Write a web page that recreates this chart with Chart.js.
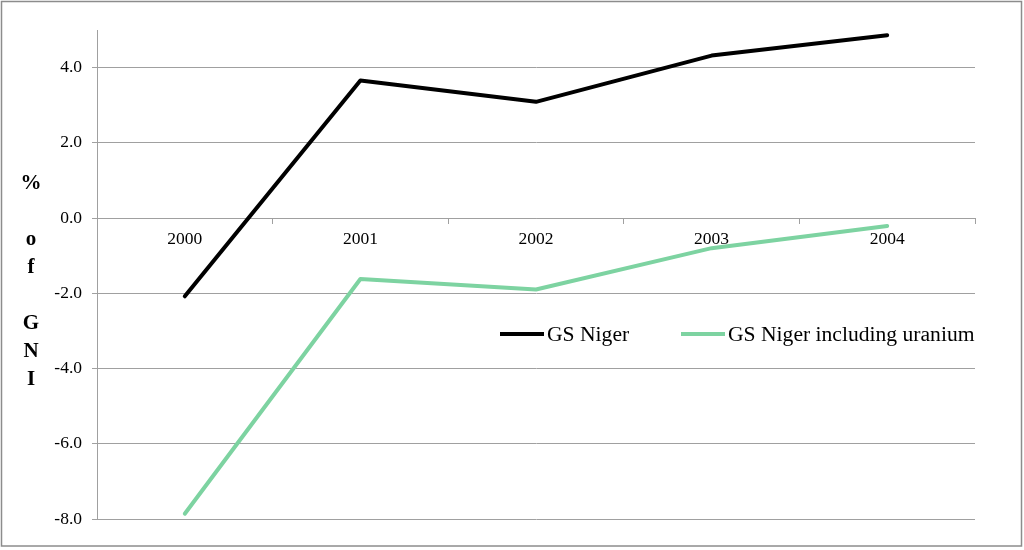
<!DOCTYPE html>
<html>
<head>
<meta charset="utf-8">
<script src="https://cdn.jsdelivr.net/npm/chart.js@4/dist/chart.umd.min.js"></script>
<style>
  html, body { margin: 0; padding: 0; background: #fff; }
  #wrap { width: 1024px; height: 550px; position: relative; }
</style>
</head>
<body>
<div id="wrap"><canvas id="chart"></canvas></div>
<script>
const YEARS = ["2000", "2001", "2002", "2003", "2004"]
const GS_NIGER = [-2.08, 3.66, 3.09, 4.32, 4.86]
const GS_NIGER_URANIUM = [-7.86, -1.62, -1.9, -0.8, -0.21]
const Y_TICKS = [-8, -6, -4, -2, 0, 2, 4]
const Y_TITLE = "% of GNI"

const BLACK = "#000000"
const GREEN = "#7dd3a1"
const GRID = "#a0a0a0"
const SERIF = "'Liberation Serif', 'Times New Roman', serif"

Chart.defaults.font.family = SERIF
Chart.defaults.color = "#000"

// frame, stacked y title and the legend in the middle of the plot
const decor = {
  id: "decor",
  afterDraw: (chart) => {
    const { ctx } = chart

    ctx.save()
    ctx.strokeStyle = "#8c8c8c"
    ctx.lineWidth = 1.5
    ctx.strokeRect(1.5, 1.5, 1020, 544.5)

    ctx.fillStyle = "#000"
    ctx.font = `bold 21px ${SERIF}`
    ctx.textAlign = "center"
    ctx.textBaseline = "middle"
    Y_TITLE.split("").forEach((ch, i) => {
      ctx.fillText(ch, 31, 184 + i * 28)
    })

    const items = [
      { x: 500, ds: chart.data.datasets[0] },
      { x: 681, ds: chart.data.datasets[1] },
    ]
    ctx.font = `21.6px ${SERIF}`
    ctx.textAlign = "left"
    ctx.lineCap = "butt"
    for (const { x, ds } of items) {
      ctx.beginPath()
      ctx.moveTo(x, 334)
      ctx.lineTo(x + 44, 334)
      ctx.strokeStyle = ds.borderColor
      ctx.lineWidth = 4
      ctx.stroke()
      ctx.fillText(ds.label, x + 47, 335)
    }
    ctx.restore()
  },
}

const chart = new Chart(document.getElementById("chart"), {
  type: "line",
  data: {
    labels: YEARS,
    datasets: [
      { label: "GS Niger", data: GS_NIGER, borderColor: BLACK, backgroundColor: BLACK },
      { label: "GS Niger including uranium", data: GS_NIGER_URANIUM, borderColor: GREEN, backgroundColor: GREEN },
    ],
  },
  options: {
    animation: false,
    responsive: true,
    maintainAspectRatio: false,
    borderWidth: 4,
    borderCapStyle: "round",
    borderJoinStyle: "round",
    tension: 0,
    pointRadius: 0,
    pointHoverRadius: 0,
    layout: {
      padding: { top: 30, right: 49, bottom: 31, left: 0 },
    },
    plugins: {
      legend: { display: false },
      tooltip: { enabled: false },
    },
    scales: {
      x: {
        position: { y: 0 },
        offset: true,
        grid: {
          offset: true,
          drawOnChartArea: false,
          drawTicks: true,
          tickLength: 5,
          color: GRID,
        },
        border: { color: GRID, width: 1 },
        ticks: {
          font: { size: 17.5 },
          padding: 6,
          maxRotation: 0,
          minRotation: 0,
        },
      },
      y: {
        min: -8,
        max: 5,
        grid: { color: GRID, tickLength: 5, lineWidth: 1 },
        border: { color: GRID, width: 1 },
        ticks: {
          font: { size: 17.5 },
          padding: 10,
          callback: (value) => value.toFixed(1),
        },
        afterBuildTicks: (scale) => {
          scale.ticks = Y_TICKS.map((v) => ({ value: v }))
        },
        afterFit: (scale) => {
          scale.width = 97
          scale.paddingTop = 0
          scale.paddingBottom = 0
        },
      },
    },
  },
  plugins: [decor],
})
</script>
</body>
</html>
